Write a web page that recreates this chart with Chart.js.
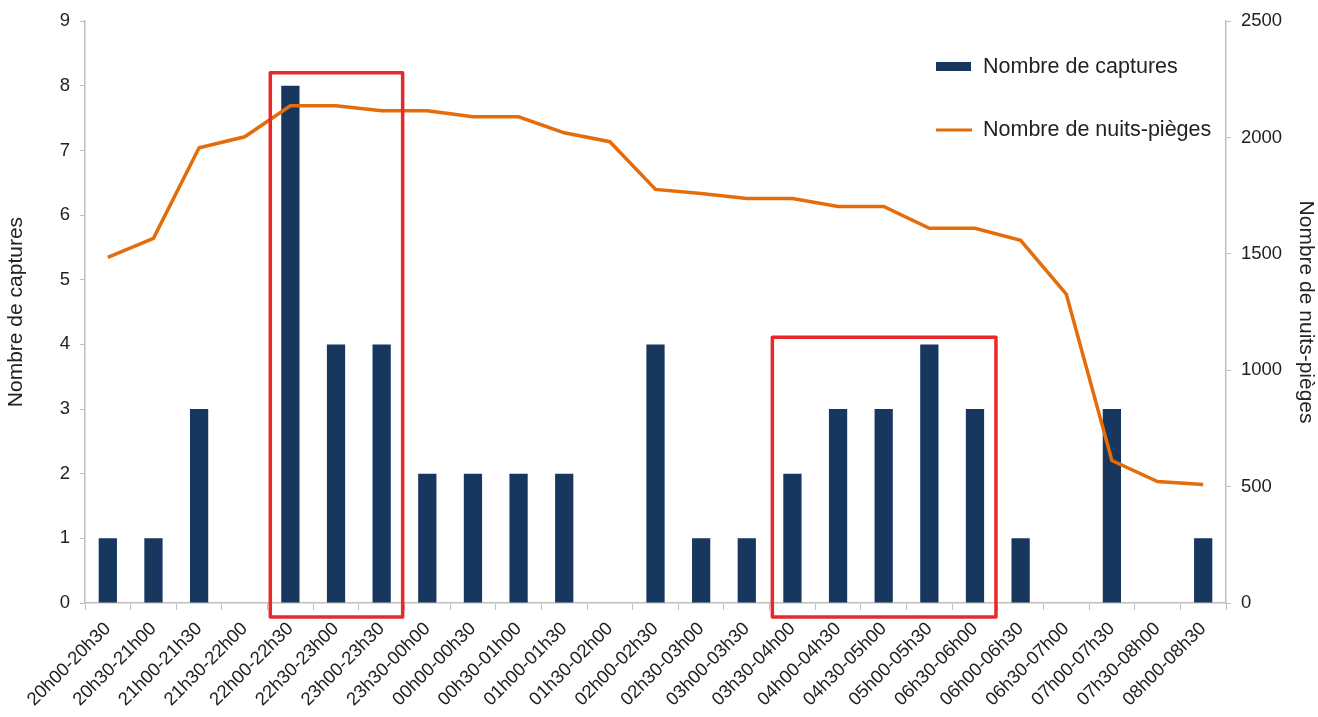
<!DOCTYPE html>
<html lang="fr">
<head>
<meta charset="utf-8">
<title>Captures et nuits-pièges</title>
<script src="https://cdn.jsdelivr.net/npm/chart.js@4.4.1/dist/chart.umd.min.js"></script>
<style>
  html, body { margin: 0; padding: 0; background: #fff; }
  #wrap { position: relative; width: 1318px; height: 717px; }
</style>
</head>
<body>
<div id="wrap"><canvas id="graficaCaptures"></canvas></div>
<script>
const creneaux = [
    '20h00-20h30', '20h30-21h00', '21h00-21h30', '21h30-22h00', '22h00-22h30',
    '22h30-23h00', '23h00-23h30', '23h30-00h00', '00h00-00h30', '00h30-01h00',
    '01h00-01h30', '01h30-02h00', '02h00-02h30', '02h30-03h00', '03h00-03h30',
    '03h30-04h00', '04h00-04h30', '04h30-05h00', '05h00-05h30', '06h30-06h00',
    '06h00-06h30', '06h30-07h00', '07h00-07h30', '07h30-08h00', '08h00-08h30'
];
const captures = [1, 1, 3, 0, 8, 4, 4, 2, 2, 2, 2, 0, 4, 1, 1, 2, 3, 3, 4, 3, 1, 0, 3, 0, 1];
const nuitsPieges = [1485, 1567, 1956, 2003, 2136, 2136, 2115, 2115, 2089, 2089, 2020, 1982,
    1777, 1759, 1738, 1738, 1704, 1704, 1610, 1610, 1558, 1327, 612, 522, 509];
const ticksCaptures = [0, 1, 2, 3, 4, 5, 6, 7, 8, 9];
const ticksNuits = [0, 500, 1000, 1500, 2000, 2500];
// encadrés rouges : premier et dernier créneau, hauteur sur l'axe des captures
const encadres = [
    { debut: 4, fin: 6, haut: 8.2 },
    { debut: 15, fin: 19, haut: 4.11 }
];

const BLEU = '#17375e';
const ORANGE = '#e46c0a';
const ROUGE = '#e8292b';
const GRIS = '#bfbfbf';
const POLICE = "'Liberation Sans', Arial, sans-serif";

document.addEventListener('DOMContentLoaded', function () {
    const canvas = document.getElementById('graficaCaptures');

    const encadresPlugin = {
        id: 'encadres',
        afterDatasetsDraw(chart) {
            const ctx = chart.ctx;
            const x = chart.scales.x;
            const y = chart.scales.y;
            const pas = x.getPixelForValue(1) - x.getPixelForValue(0);
            ctx.save();
            ctx.strokeStyle = ROUGE;
            ctx.lineWidth = 3.5;
            ctx.lineJoin = 'round';
            encadres.forEach((e) => {
                const gauche = x.getPixelForValue(e.debut) - pas * 0.44;
                const droite = x.getPixelForValue(e.fin) + pas * 0.46;
                const haut = y.getPixelForValue(e.haut);
                const bas = y.getPixelForValue(0) + 14;
                ctx.strokeRect(gauche, haut, droite - gauche, bas - haut);
            });
            ctx.restore();
        }
    };

    const legendePlugin = {
        id: 'legende',
        afterDraw(chart) {
            const ctx = chart.ctx;
            const xs = 936;
            ctx.save();
            ctx.font = '21.5px ' + POLICE;
            ctx.textBaseline = 'middle';
            ctx.fillStyle = BLEU;
            ctx.fillRect(xs, 62, 35, 9);
            ctx.fillStyle = '#222';
            ctx.fillText('Nombre de captures', 983, 67);
            ctx.strokeStyle = ORANGE;
            ctx.lineWidth = 3;
            ctx.beginPath();
            ctx.moveTo(xs, 130);
            ctx.lineTo(xs + 36, 130);
            ctx.stroke();
            ctx.fillText('Nombre de nuits-pièges', 983, 130);
            ctx.restore();
        }
    };

    new Chart(canvas, {
        type: 'bar',
        data: {
            labels: creneaux,
            datasets: [{
                type: 'line',
                label: 'Nombre de nuits-pièges',
                data: nuitsPieges,
                yAxisID: 'y1',
                borderColor: ORANGE,
                borderWidth: 3.5,
                pointRadius: 0,
                tension: 0,
                order: 0
            }, {
                label: 'Nombre de captures',
                data: captures,
                yAxisID: 'y',
                backgroundColor: BLEU,
                barPercentage: 0.4,
                categoryPercentage: 1,
                order: 1
            }]
        },
        options: {
            responsive: true,
            maintainAspectRatio: false,
            animation: false,
            layout: { padding: { top: 19, left: 0, right: 0, bottom: 0 } },
            plugins: {
                legend: { display: false },
                tooltip: { enabled: false }
            },
            scales: {
                x: {
                    grid: { drawOnChartArea: false, color: GRIS, tickLength: 7, offset: true },
                    border: { color: GRIS, width: 1.5 },
                    ticks: {
                        color: '#222',
                        font: { family: POLICE, size: 18.5 },
                        maxRotation: 45,
                        minRotation: 45,
                        autoSkip: false,
                        padding: 8
                    },
                    afterFit(scale) { scale.height = 114; }
                },
                y: {
                    position: 'left',
                    min: 0,
                    max: 9,
                    afterBuildTicks(scale) { scale.ticks = ticksCaptures.map((v) => ({ value: v })); },
                    grid: { drawOnChartArea: false, color: GRIS, tickLength: 5 },
                    border: { color: GRIS, width: 1.5 },
                    ticks: { color: '#222', font: { family: POLICE, size: 18.5 }, padding: 10 },
                    title: {
                        display: true,
                        text: 'Nombre de captures',
                        color: '#222',
                        font: { family: POLICE, size: 21 },
                        padding: { top: 4, bottom: 0 }
                    },
                    afterFit(scale) { scale.width = 85; }
                },
                y1: {
                    position: 'right',
                    min: 0,
                    max: 2500,
                    afterBuildTicks(scale) { scale.ticks = ticksNuits.map((v) => ({ value: v })); },
                    grid: { drawOnChartArea: false, color: GRIS, tickLength: 5 },
                    border: { color: GRIS, width: 1.5 },
                    ticks: {
                        color: '#222',
                        font: { family: POLICE, size: 18.5 },
                        padding: 10,
                        callback: (v) => String(v)
                    },
                    title: {
                        display: true,
                        text: 'Nombre de nuits-pièges',
                        color: '#222',
                        font: { family: POLICE, size: 21 },
                        padding: { top: 0, bottom: 0 }
                    },
                    afterFit(scale) { scale.width = 92; }
                }
            }
        },
        plugins: [encadresPlugin, legendePlugin]
    });
});
</script>
</body>
</html>
